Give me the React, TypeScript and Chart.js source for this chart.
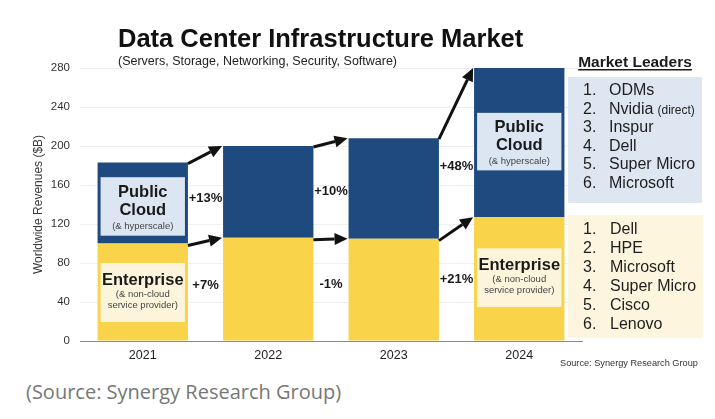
import React, { useEffect, useRef } from "react";
import { Chart, registerables } from "chart.js";
Chart.register(...registerables);

const years = ["2021", "2022", "2023", "2024"];
const enterprise = [100, 106, 105, 127];
const publicCloud = [83, 94, 103, 153];
const cloudGrowth = ["+13%", "+10%", "+48%"];
const enterpriseGrowth = ["+7%", "-1%", "+21%"];
const yTicks = [0, 40, 80, 120, 160, 200, 240, 280];
const cloudLeaders = ["ODMs", "Nvidia", "Inspur", "Dell", "Super Micro", "Microsoft"];
const enterpriseLeaders = ["Dell", "HPE", "Microsoft", "Super Micro", "Cisco", "Lenovo"];

const BLUE = "#1f4a80";
const YELLOW = "#f9d44b";
const FONT = "'Liberation Sans', Arial, sans-serif";

// label boxes inside bars (bar index, value extents)
const segmentBoxes = [
  { bar: 0, top: 168, bottom: 108, kind: "cloud" },
  { bar: 0, top: 80, bottom: 19.5, kind: "ent" },
  { bar: 3, top: 234, bottom: 175, kind: "cloud" },
  { bar: 3, top: 95, bottom: 35, kind: "ent" },
];

function arrow(ctx: CanvasRenderingContext2D, x1: number, y1: number, x2: number, y2: number) {
  const ang = Math.atan2(y2 - y1, x2 - x1);
  const head = 13;
  const hw = 6;
  const bx = x2 - head * Math.cos(ang);
  const by = y2 - head * Math.sin(ang);
  ctx.save();
  ctx.strokeStyle = "#111";
  ctx.fillStyle = "#111";
  ctx.lineWidth = 3;
  ctx.beginPath();
  ctx.moveTo(x1, y1);
  ctx.lineTo(bx, by);
  ctx.stroke();
  ctx.beginPath();
  ctx.moveTo(x2, y2);
  ctx.lineTo(bx - hw * Math.sin(ang), by + hw * Math.cos(ang));
  ctx.lineTo(bx + hw * Math.sin(ang), by - hw * Math.cos(ang));
  ctx.closePath();
  ctx.fill();
  ctx.restore();
}

const overlay = {
  id: "overlay",
  afterDraw(chart: any) {
    const ctx: CanvasRenderingContext2D = chart.ctx;
    const y = chart.scales.y;
    const entBars = chart.getDatasetMeta(0).data;
    ctx.save();

    // label boxes
    segmentBoxes.forEach((b) => {
      const bar = entBars[b.bar];
      const left = bar.x - bar.width / 2 + 3;
      const right = bar.x + bar.width / 2 - 3;
      const top = y.getPixelForValue(b.top);
      const bottom = y.getPixelForValue(b.bottom);
      ctx.fillStyle = b.kind === "cloud" ? "#dce6f2" : "#fdf4dc";
      ctx.fillRect(left, top, right - left, bottom - top);
      const cx = (left + right) / 2;
      ctx.textAlign = "center";
      ctx.textBaseline = "middle";
      ctx.fillStyle = "#1a1a1a";
      if (b.kind === "cloud") {
        ctx.font = `bold 16.5px ${FONT}`;
        ctx.fillText("Public", cx, top + 15);
        ctx.fillText("Cloud", cx, top + 33);
        ctx.font = `9.5px ${FONT}`;
        ctx.fillStyle = "#444";
        ctx.fillText("(& hyperscale)", cx, top + 49);
      } else {
        ctx.font = `bold 16.5px ${FONT}`;
        ctx.fillText("Enterprise", cx, top + 17);
        ctx.font = `9.5px ${FONT}`;
        ctx.fillStyle = "#444";
        ctx.fillText("(& non-cloud", cx, top + 31);
        ctx.fillText("service provider)", cx, top + 42);
      }
    });

    // arrows and growth labels
    for (let i = 0; i < years.length - 1; i++) {
      const a = entBars[i];
      const b = entBars[i + 1];
      const x1 = a.x + a.width / 2;
      const x2 = b.x - b.width / 2;
      const tot1 = y.getPixelForValue(enterprise[i] + publicCloud[i]);
      const tot2 = y.getPixelForValue(enterprise[i + 1] + publicCloud[i + 1]);
      const e1 = y.getPixelForValue(enterprise[i]);
      const e2 = y.getPixelForValue(enterprise[i + 1]);
      const z = y.getPixelForValue(0);
      arrow(ctx, x1, tot1 + 1, x2 - 1, tot2);
      arrow(ctx, x1, e1 + 2, x2 - 1, e2);
      const mx = (x1 + x2) / 2;
      ctx.font = `bold 13px ${FONT}`;
      ctx.fillStyle = "#1a1a1a";
      ctx.textAlign = "center";
      ctx.textBaseline = "middle";
      const cy = ((tot1 + e1) / 2 + (tot2 + e2) / 2) / 2 + 1;
      const ey = ((e1 + z) / 2 + (e2 + z) / 2) / 2 - 5;
      ctx.fillText(cloudGrowth[i], mx, cy);
      ctx.fillText(enterpriseGrowth[i], mx, ey);
    }

    // title
    ctx.textAlign = "left";
    ctx.textBaseline = "alphabetic";
    ctx.fillStyle = "#111";
    ctx.font = `bold 25.5px ${FONT}`;
    ctx.fillText("Data Center Infrastructure Market", 118, 47);
    ctx.font = `12.5px ${FONT}`;
    ctx.fillStyle = "#222";
    ctx.fillText("(Servers, Storage, Networking, Security, Software)", 118, 65);

    // Market leaders
    ctx.font = `bold 15.5px ${FONT}`;
    ctx.fillStyle = "#1a1a1a";
    ctx.textAlign = "center";
    ctx.fillText("Market Leaders", 635, 67);
    const w = ctx.measureText("Market Leaders").width;
    ctx.fillRect(635 - w / 2, 69, w, 1.5);

    ctx.fillStyle = "#dde6f1";
    ctx.fillRect(568, 77, 134, 126);
    ctx.fillStyle = "#fdf5de";
    ctx.fillRect(568, 215, 135, 123);

    ctx.textAlign = "left";
    ctx.textBaseline = "middle";
    ctx.fillStyle = "#1e1e1e";
    cloudLeaders.forEach((n, i) => {
      const ry = 91 + i * 18.5;
      ctx.font = `16px ${FONT}`;
      ctx.fillText(`${i + 1}.`, 583, ry);
      ctx.fillText(n, 609, ry);
      if (n === "Nvidia") {
        const nw = ctx.measureText(n).width;
        ctx.font = `12px ${FONT}`;
        ctx.fillText("(direct)", 609 + nw + 4, ry + 1);
      }
    });
    enterpriseLeaders.forEach((n, i) => {
      const ry = 230 + i * 18.9;
      ctx.font = `16px ${FONT}`;
      ctx.fillText(`${i + 1}.`, 583, ry);
      ctx.fillText(n, 610, ry);
    });

    ctx.font = `9.2px ${FONT}`;
    ctx.fillStyle = "#333";
    ctx.fillText("Source: Synergy Research Group", 560, 363);
    ctx.restore();
  },
};

export default function App() {
  const ref = useRef<HTMLCanvasElement>(null);
  useEffect(() => {
    const chart = new Chart(ref.current as HTMLCanvasElement, {
      type: "bar",
      data: {
        labels: years,
        datasets: [
          { label: "Enterprise", data: enterprise, backgroundColor: YELLOW, borderWidth: 0 },
          { label: "Public Cloud", data: publicCloud, backgroundColor: BLUE, borderWidth: 0 },
        ],
      },
      options: {
        responsive: false,
        animation: false,
        events: [],
        layout: { padding: { left: 0, top: 68, right: 133, bottom: 4 } },
        datasets: { bar: { categoryPercentage: 1, barPercentage: 0.72 } },
        plugins: { legend: { display: false }, tooltip: { enabled: false }, title: { display: false } },
        scales: {
          x: {
            stacked: true,
            grid: { display: false, drawTicks: false },
            border: { display: true, color: "#8a8a8a", width: 1 },
            ticks: { padding: 7, color: "#222", font: { family: FONT, size: 12.5 } },
            afterFit: (s: any) => { s.height = 30; },
          },
          y: {
            stacked: true,
            min: 0,
            max: 280,
            afterBuildTicks: (s: any) => { s.ticks = yTicks.map((v) => ({ value: v })); },
            grid: { color: "#efefef", drawTicks: false },
            border: { display: false },
            ticks: { padding: 10, color: "#333", font: { family: FONT, size: 11.5 } },
            title: {
              display: true,
              text: "Worldwide Revenues ($B)",
              color: "#3a3a3a",
              font: { family: FONT, size: 12 },
              padding: { top: 31, bottom: 0 },
            },
            afterFit: (s: any) => { s.width = 80; },
          },
        },
      },
      plugins: [overlay],
    });
    return () => chart.destroy();
  }, []);
  return (
    <div style={{ position: "absolute", left: 0, top: 0, width: 715, height: 419, background: "#fff" }}>
      <canvas ref={ref} width={715} height={375} style={{ position: "absolute", left: 0, top: 0, width: 715, height: 375 }} />
      <div style={{ position: "absolute", left: 26, top: 378, font: "20px 'Open Sans', sans-serif", color: "#777", whiteSpace: "nowrap" }}>
        (Source: Synergy Research Group)
      </div>
    </div>
  );
}
